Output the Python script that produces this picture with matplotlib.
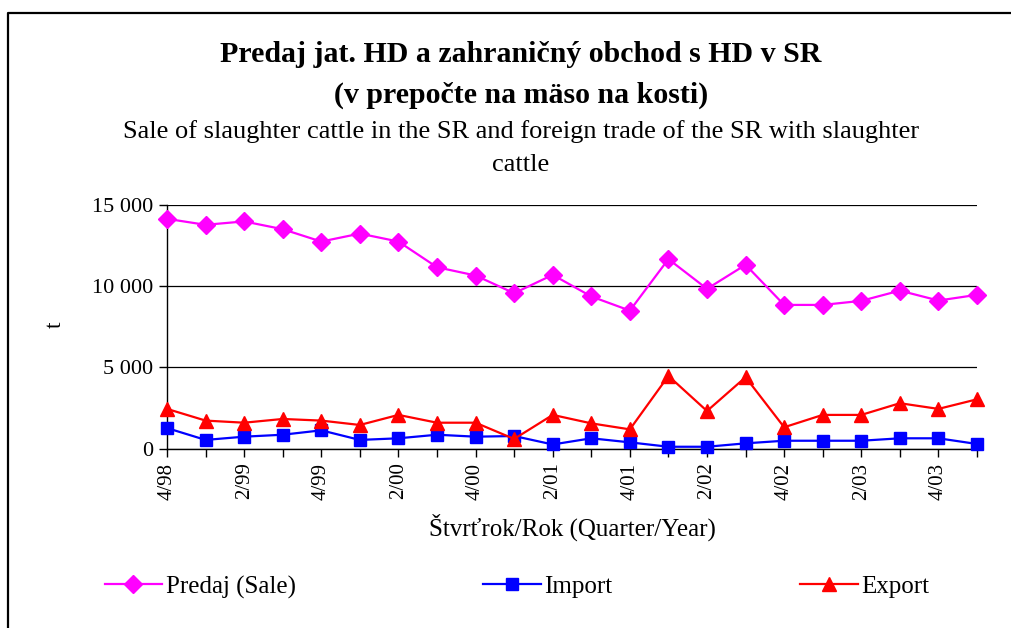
import numpy as np
import matplotlib.pyplot as plt
from matplotlib.lines import Line2D

plt.rcParams['font.family'] = ['Liberation Serif', 'DejaVu Serif']

quarters = ['4/98', '1/99', '2/99', '3/99', '4/99', '1/00', '2/00', '3/00', '4/00',
            '1/01', '2/01', '3/01', '4/01', '1/02', '2/02', '3/02', '4/02',
            '1/03', '2/03', '3/03', '4/03', '1/04']
sale = [14150, 13780, 13990, 13510, 12750, 13240, 12750, 11170, 10660, 9570, 10700,
        9370, 8500, 11670, 9840, 11320, 8850, 8850, 9100, 9730, 9120, 9470]
imports = [1270, 540, 740, 860, 1130, 540, 640, 860, 740, 780, 260,
           640, 390, 120, 120, 330, 490, 490, 490, 640, 640, 290]
exports = [2450, 1730, 1600, 1830, 1730, 1460, 2080, 1600, 1600, 600, 2080,
           1560, 1190, 4480, 2320, 4400, 1320, 2080, 2080, 2800, 2450, 3040]
yticks = [0, 5000, 10000, 15000]
ytick_labels = ['0', '5 000', '10 000', '15 000']

W, H = 1011, 628
fig = plt.figure(figsize=(W / 100, H / 100), dpi=100)
ax = fig.add_axes([167 / W, 1 - 448.7 / H, (977 - 167) / W, (448.7 - 205) / H])

x = np.arange(len(quarters))
ax.plot(x, sale, color='#ff00ff', lw=1.6, marker='D', ms=9, label='Predaj (Sale)', clip_on=False, zorder=3)
ax.plot(x, imports, color='#0000ff', lw=1.6, marker='s', ms=8, label='Import', clip_on=False, zorder=3)
ax.plot(x, exports, color='#ff0000', lw=1.6, marker='^', ms=10, label='Export', clip_on=False, zorder=3)

ax.set_xlim(0, len(quarters) - 1)
ax.set_ylim(0, 15000)
ax.set_yticks(yticks)
ax.set_yticklabels(ytick_labels, fontsize=16)
ax.set_xticks(x)
ax.set_xticklabels([q if i % 2 == 0 else '' for i, q in enumerate(quarters)],
                   rotation=90, fontsize=15)
ax.tick_params(axis='both', direction='out', length=6, width=1, color='black', pad=4)
ax.grid(axis='y', color='black', lw=0.9)
ax.set_axisbelow(True)
for s in ['top', 'right']:
    ax.spines[s].set_visible(False)
ax.spines['left'].set_linewidth(1)
ax.spines['bottom'].set_linewidth(1)

ax.set_xlabel('Štvrťrok/Rok (Quarter/Year)', fontsize=18, labelpad=10)
fig.text(55 / W, 1 - 325 / H, 't', fontsize=17, rotation=90, ha='center', va='center')

cx = 521 / W
fig.text(cx, 1 - 55 / H, 'Predaj jat. HD a zahraničný obchod s HD v SR', fontsize=21.5,
         fontweight='bold', ha='center', va='center')
fig.text(cx, 1 - 95 / H, '(v prepočte na mäso na kosti)', fontsize=21.5,
         fontweight='bold', ha='center', va='center')
fig.text(cx, 1 - 132 / H, 'Sale of slaughter cattle in the SR and foreign trade of the SR with slaughter',
         fontsize=19, ha='center', va='center')
fig.text(cx, 1 - 165 / H, 'cattle', fontsize=19, ha='center', va='center')

fig.legend(loc='center left', bbox_to_anchor=(82 / W, 1 - 587 / H), ncol=3, frameon=False,
           fontsize=18, handlelength=2.3, handletextpad=0.15, columnspacing=7.5)

# chart frame (partly cropped in the original)
fig.add_artist(Line2D([8 / W, 8 / W, 1], [0, 1 - 13 / H, 1 - 13 / H],
                      transform=fig.transFigure, color='black', lw=1.6))

fig.savefig('out.png', dpi=100)
